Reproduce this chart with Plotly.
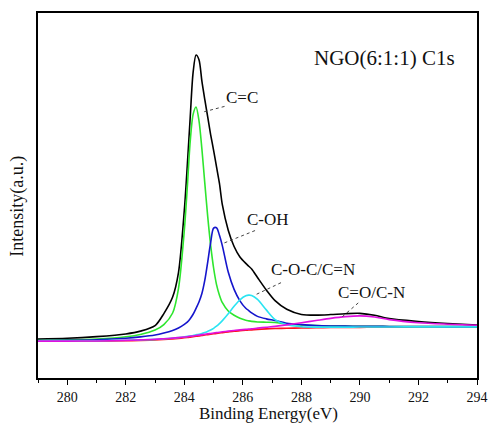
import plotly.graph_objects as go
import numpy as np

# Binding energy grid (eV)
energy = [279, 280, 281, 282, 282.5, 283, 283.3, 283.6, 283.8, 284.0, 284.1, 284.2, 284.3,
          284.4, 284.5, 284.6, 284.7, 284.8, 284.9, 285.0, 285.1, 285.2, 285.3, 285.5,
          285.7, 285.9, 286.1, 286.2, 286.3, 286.5, 286.8, 287.1, 287.5, 288, 288.5, 289,
          289.5, 290, 290.5, 291, 292, 293, 294]

# Shirley-type background (a.u.)
background = [37.0, 37.0, 37.1, 37.4, 37.7, 38.1, 38.6, 39.2, 39.7, 40.3, 40.6, 41.0, 41.4,
              41.8, 42.2, 42.7, 43.1, 43.5, 43.9, 44.3, 44.7, 45.1, 45.5, 46.2,
              46.9, 47.4, 47.9, 48.1, 48.3, 48.8, 49.3, 49.6, 49.9, 50.2, 50.4, 50.6,
              50.7, 50.8, 50.9, 51.0, 51.1, 51.15, 51.2]

# Measured envelope, height above background
envelope = [2.0, 2.8, 4.4, 6.8, 9.3, 14.4, 26, 42, 66, 128, 172, 220, 265,
            282, 277, 255, 236, 218, 200, 184, 167, 150, 128, 102,
            85, 74, 67, 64, 61, 52, 39, 28, 19, 13.5, 12.6, 13,
            13.8, 14, 12, 8.5, 5.5, 3.5, 2.0]

# Fitted components, heights above background
c_eq_c = [0.8, 1.2, 2.0, 4.0, 6.0, 10, 15, 26, 50, 108, 150, 196, 223,
          230, 216, 187, 152, 118, 89, 66, 49, 38, 30, 21,
          16, 12.5, 10, 9.2, 8.5, 7.4, 6.6, 6.0, 4.2, 3.0, 2.2, 1.6,
          1.3, 1.1, 0.9, 0.7, 0.5, 0.4, 0.3]
c_oh = [0.5, 0.8, 1.3, 2.5, 3.5, 5.0, 6.5, 8.5, 10.5, 13.5, 15.5, 18.5, 22.5,
        28, 34, 42, 55, 73, 92, 106, 106, 98, 87, 60,
        42, 30, 22, 19.5, 17, 13, 10, 8, 5, 3.3, 2.2, 1.6,
        1.3, 1.1, 0.9, 0.7, 0.5, 0.4, 0.3]
c_o_c = [0.2, 0.25, 0.3, 0.4, 0.5, 0.6, 0.7, 0.8, 0.9, 1.0, 1.1, 1.2, 1.3,
         1.5, 1.7, 2.0, 2.5, 3.3, 4.2, 5.5, 7.2, 9.4, 12, 18.2,
         25, 31, 34.5, 35, 34.4, 30, 19, 9, 3.5, 1.2, 0.6, 0.4,
         0.3, 0.3, 0.25, 0.2, 0.2, 0.15, 0.1]
c_eq_o = [0, 0, 0.05, 0.3, 0.5, 0.7, 0.8, 0.8, 0.8, 0.8, 0.8, 0.8, 0.8,
          0.8, 0.8, 0.8, 0.8, 0.8, 0.8, 0.8, 0.8, 0.8, 0.8, 0.8,
          0.8, 0.85, 0.9, 0.95, 1.0, 1.2, 1.6, 2.2, 3.4, 5.2, 7.2, 9.2,
          10.8, 11.5, 10.2, 7.5, 4.3, 2.8, 1.7]

x_ticks = [280, 282, 284, 286, 288, 290, 292, 294]

bg = np.array(background)
FONT = "Liberation Serif"

fig = go.Figure()
line_kw = dict(shape="spline", smoothing=0.8)
fig.add_trace(go.Scatter(x=energy, y=bg, mode="lines",
                         line=dict(color="#ff1020", width=1.6, **line_kw)))
fig.add_trace(go.Scatter(x=energy, y=bg + np.array(envelope), mode="lines",
                         line=dict(color="#000000", width=1.6, **line_kw)))
fig.add_trace(go.Scatter(x=energy, y=bg + np.array(c_eq_c), mode="lines",
                         line=dict(color="#2ee62e", width=1.6, **line_kw)))
fig.add_trace(go.Scatter(x=energy, y=bg + np.array(c_oh), mode="lines",
                         line=dict(color="#1515cc", width=1.6, **line_kw)))
fig.add_trace(go.Scatter(x=energy, y=bg + np.array(c_o_c), mode="lines",
                         line=dict(color="#2ae4f2", width=1.6, **line_kw)))
fig.add_trace(go.Scatter(x=energy, y=bg + np.array(c_eq_o), mode="lines",
                         line=dict(color="#e010e0", width=1.6, **line_kw)))

labels = [
    ("NGO(6:1:1) C1s", 290.85, 321, 21),
    ("C=C", 285.98, 281.5, 17),
    ("C-OH", 286.86, 159, 17),
    ("C-O-C/C=N", 288.38, 108.5, 17),
    ("C=O/C-N", 290.4, 85.5, 17),
]
annotations = []
for txt, xx, yy, fs in labels:
    annotations.append(dict(text=txt, x=xx, y=yy, xref="x", yref="y", showarrow=False,
                            xanchor="center", yanchor="middle",
                            font=dict(family=FONT, size=fs, color="#111")))

annotations.append(dict(text="Binding Energy(eV)", x=0.525, y=-0.098, xref="paper", yref="paper",
                        showarrow=False, xanchor="center", yanchor="middle",
                        font=dict(family=FONT, size=17, color="#111")))
annotations.append(dict(text="Intensity(a.u.)", x=-0.047, y=0.47, xref="paper", yref="paper",
                        showarrow=False, xanchor="center", yanchor="middle", textangle=-90,
                        font=dict(family=FONT, size=18, color="#111")))

leaders = [
    (284.68, 267, 285.46, 273),
    (285.37, 135.5, 286.43, 148),
    (286.47, 84, 287.37, 96.5),
    (289.4, 61.5, 289.97, 76),
]
shapes = [dict(type="line", xref="x", yref="y", x0=a, y0=b, x1=c, y1=d,
               line=dict(color="#444", width=1, dash="dot")) for a, b, c, d in leaders]

fig.update_layout(
    width=499, height=425,
    margin=dict(l=38, r=11, t=12, b=47),
    paper_bgcolor="white", plot_bgcolor="white",
    showlegend=False,
    font=dict(family=FONT, color="#111"),
    annotations=annotations,
    shapes=shapes,
    xaxis=dict(range=[279, 294], tickvals=x_ticks, ticks="outside", ticklen=5, tickwidth=1.3,
               tickcolor="black", showline=True, linecolor="black", linewidth=1.5, mirror=True,
               showgrid=False, zeroline=False,
               tickfont=dict(family=FONT, size=14, color="#111"),
               minor=dict(dtick=1, tick0=279, ticks="outside", ticklen=3, tickwidth=1.2,
                          tickcolor="black", showgrid=False)),
    yaxis=dict(range=[0, 366], showticklabels=False, ticks="", showline=True, linecolor="black",
               linewidth=1.5, mirror=True, showgrid=False, zeroline=False),
)

fig.write_html("out.html", config={"displayModeBar": False},
               post_script="document.body.style.margin='0';document.body.style.padding='0';")
